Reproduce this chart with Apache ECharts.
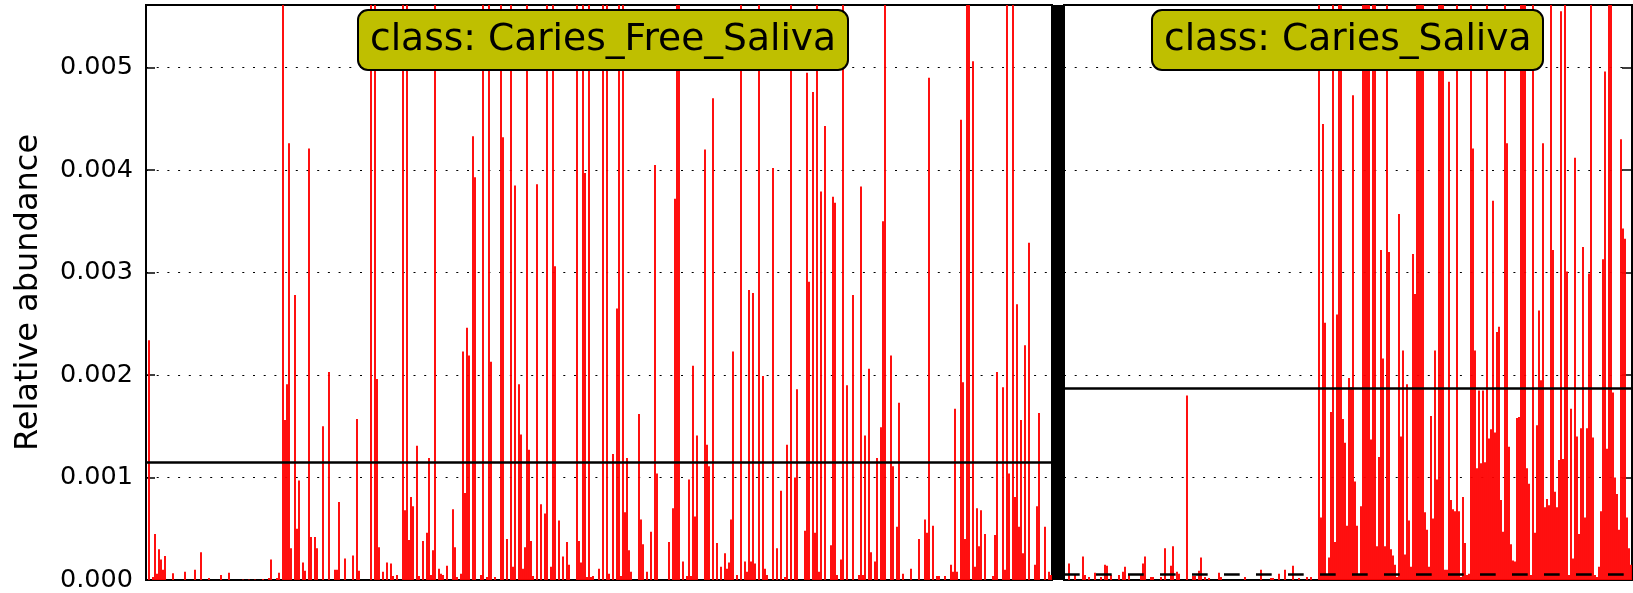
<!DOCTYPE html>
<html>
<head>
<meta charset="utf-8">
<script src="https://cdn.jsdelivr.net/npm/echarts@6/dist/echarts.min.js"></script>
<style>
  html, body { margin: 0; padding: 0; background: #ffffff; }
  #chart { width: 1633px; height: 593px; }
</style>
</head>
<body>
<div id="chart"></div>
<script>
// sample counts of the two classes
const leftCount = 453
const rightCount = 284

// [sample index, relative abundance x 1e-4]; bars taller than the axis are clipped at the top
const leftSamples = [
  [1, 23.4], [3, 0.3], [4, 4.5], [5, 0.6], [6, 3.0], [7, 2.0], [8, 1.0], [9, 2.35], [13, 0.65], [19, 0.8],
  [24, 1.0], [27, 2.7], [31, 0.2], [37, 0.5], [41, 0.7], [48, 0.05], [51, 0.05], [54, 0.05], [58, 0.1], [61, 0.2],
  [62, 2.0], [65, 0.2], [66, 0.7], [68, 60], [69, 15.6], [70, 19.1], [71, 42.6], [72, 3.1], [74, 27.8], [75, 5.0],
  [76, 9.7], [78, 1.7], [79, 0.9], [81, 42.1], [82, 4.2], [84, 4.2], [85, 3.1], [88, 15.0], [91, 20.3], [94, 1.0],
  [95, 1.0], [96, 7.6], [99, 2.1], [103, 2.4], [105, 15.7], [106, 0.9], [112, 60], [114, 60], [115, 19.6], [116, 3.2],
  [118, 0.8], [120, 1.7], [122, 1.6], [123, 0.4], [125, 0.5], [128, 60], [129, 6.8], [130, 60], [131, 3.9], [132, 8.1],
  [133, 7.2], [135, 13.1], [136, 0.4], [138, 3.8], [140, 4.6], [141, 11.9], [142, 0.5], [143, 2.9], [144, 60], [146, 1.1],
  [147, 0.6], [148, 0.5], [150, 1.4], [153, 6.9], [154, 3.2], [155, 0.3], [157, 0.6], [158, 22.3], [159, 8.5], [160, 24.6],
  [161, 21.9], [163, 43.3], [164, 39.3], [167, 0.5], [168, 60], [170, 0.3], [171, 60], [172, 21.3], [174, 0.3], [177, 60],
  [178, 43.2], [180, 4.0], [182, 60], [183, 1.3], [184, 38.5], [186, 19.1], [187, 14.2], [188, 1.1], [189, 3.2], [190, 60],
  [191, 12.7], [192, 3.8], [193, 0.4], [195, 38.6], [197, 7.4], [199, 6.5], [200, 60], [202, 1.3], [203, 60], [204, 30.6],
  [206, 5.8], [208, 2.3], [210, 3.7], [211, 1.5], [215, 60], [216, 3.8], [217, 1.7], [218, 60], [219, 39.7], [220, 0.3],
  [221, 60], [222, 0.3], [223, 0.4], [226, 1.1], [228, 60], [230, 60], [231, 0.6], [233, 12.3], [235, 26.5], [236, 60],
  [237, 0.4], [238, 60], [239, 6.6], [240, 11.9], [241, 2.9], [242, 0.8], [246, 16.2], [247, 5.9], [248, 3.5], [250, 0.8],
  [252, 4.7], [254, 40.5], [255, 10.4], [261, 3.7], [263, 7.0], [264, 37.2], [265, 60], [266, 60], [268, 1.8], [270, 0.4],
  [271, 9.8], [272, 0.4], [273, 20.9], [274, 6.2], [275, 14.1], [279, 42], [280, 13.2], [281, 11.1], [283, 47], [285, 3.6],
  [287, 1.3], [289, 2.6], [290, 1.1], [291, 1.7], [292, 5.9], [293, 22.3], [295, 0.5], [297, 60], [299, 1.8], [300, 0.8],
  [301, 28.3], [302, 1.8], [303, 28], [304, 1.6], [306, 60], [308, 19.9], [309, 1.1], [310, 0.5], [313, 40.2], [315, 3.1],
  [317, 8.7], [319, 0.3], [320, 13.2], [322, 60], [324, 10], [325, 18.6], [329, 4.8], [330, 49.5], [331, 29.1], [333, 47.6],
  [334, 4.6], [335, 60], [336, 0.8], [337, 37.9], [339, 44.3], [342, 3.4], [343, 37.4], [344, 36.8], [345, 0.5], [347, 2.0],
  [348, 60], [350, 19], [353, 27.8], [356, 0.5], [357, 38.4], [358, 0.5], [359, 14.1], [361, 20.6], [362, 2.7], [364, 1.8],
  [365, 11.9], [367, 14.9], [368, 35], [369, 60], [372, 21.9], [373, 11.1], [375, 5.2], [376, 17.3], [378, 0.6], [382, 1.1],
  [386, 4.0], [389, 5.9], [390, 4.6], [391, 49], [393, 5.3], [395, 0.4], [396, 0.4], [399, 0.4], [402, 1.5], [403, 0.8],
  [404, 16.7], [405, 0.8], [407, 44.9], [408, 19.3], [409, 4.0], [410, 60], [411, 60], [413, 50.6], [414, 1.3], [415, 7.0],
  [416, 3.3], [417, 6.8], [419, 4.5], [423, 0.4], [424, 4.4], [425, 20.3], [428, 18.8], [429, 1.0], [430, 60], [431, 10.4],
  [433, 60], [434, 8.1], [435, 26.9], [436, 5.2], [437, 15.6], [438, 2.6], [439, 22.9], [441, 32.9], [444, 1.5], [445, 7.2],
  [446, 16.3], [449, 5.2], [451, 0.8], [452, 0.5]
]

const rightSamples = [
  [2, 1.6], [5, 0.5], [9, 2.3], [10, 0.5], [12, 0.3], [15, 0.7], [18, 0.3], [20, 1.5], [21, 1.4], [23, 0.5],
  [27, 0.5], [29, 0.8], [30, 1.3], [32, 0.5], [38, 0.5], [39, 1.6], [40, 2.3], [43, 0.3], [44, 0.3], [48, 0.3],
  [50, 3.1], [53, 1.4], [54, 3.3], [56, 0.8], [57, 0.6], [61, 18], [64, 0.4], [65, 0.4], [67, 0.9], [68, 2.2],
  [70, 0.3], [72, 0.2], [77, 0.7], [78, 0.3], [90, 0.3], [98, 1.0], [103, 0.2], [104, 0.2], [107, 0.6], [110, 1.0],
  [114, 1.4], [117, 0.2], [121, 0.3], [123, 0.3],
  [127, 60], [128, 6.1], [129, 44.5], [130, 25.1], [131, 0.5], [132, 2.2], [133, 16.4], [134, 60], [135, 3.7], [136, 25.9],
  [137, 60], [138, 60], [139, 15.7], [140, 13.4], [141, 5.3], [142, 19.7], [143, 18.8], [144, 47.3], [145, 9.6], [146, 5.3],
  [147, 0.5], [148, 7.2], [149, 60], [150, 60], [151, 60], [152, 60], [153, 13.7], [154, 60], [155, 60], [156, 3.3],
  [157, 12.0], [158, 32.2], [159, 21.6], [160, 3.3], [161, 60], [162, 32.0], [163, 3.0], [164, 2.4], [165, 1.5], [166, 0.3],
  [167, 35.7], [168, 14.0], [169, 22.4], [170, 2.5], [171, 19.1], [172, 5.8], [173, 1.3], [174, 31.8], [175, 27.9], [176, 60],
  [177, 60], [178, 60], [179, 60], [180, 6.6], [181, 4.9], [182, 1.3], [183, 16], [184, 6], [185, 22.4], [186, 9.8],
  [187, 60], [188, 60], [189, 60], [190, 1.0], [191, 1.0], [192, 48.6], [193, 7.8], [194, 6.9], [195, 6.7], [196, 60],
  [197, 6.7], [198, 0.3], [199, 8.1], [200, 3.6], [201, 0.5], [202, 0.6], [203, 60], [204, 42.1], [205, 22.4], [206, 10.9],
  [207, 18.5], [208, 11.4], [209, 18.5], [210, 11.5], [211, 60], [212, 13.8], [213, 14.7], [214, 37], [215, 14.4], [216, 24.2],
  [217, 24.7], [218, 7.8], [219, 4.7], [220, 60], [221, 42.6], [222, 13], [223, 3.5], [224, 1.9], [225, 1.8], [226, 15.8],
  [227, 15.9], [228, 60], [229, 60], [230, 60], [231, 10.9], [232, 9.4], [233, 0.5], [234, 60], [235, 4.6], [236, 15.1],
  [237, 26.3], [238, 19.5], [239, 42.6], [240, 7.1], [241, 7.9], [242, 7.3], [243, 60], [244, 32.2], [245, 8.6], [246, 7.1],
  [247, 11.7], [248, 55.5], [249, 11.8], [250, 60], [251, 30.1], [252, 0.5], [253, 16.7], [254, 2.1], [255, 41.2], [256, 14],
  [257, 4.5], [258, 14.8], [259, 32.5], [260, 6.1], [261, 14.8], [262, 29.9], [263, 60], [264, 13.9], [265, 0.5], [266, 0.3],
  [267, 1.3], [268, 6.7], [269, 31.3], [270, 49.6], [271, 12.8], [272, 60], [273, 60], [274, 18.3], [275, 10], [276, 8.4],
  [277, 4.9], [278, 43], [279, 34.3], [280, 33.3], [281, 6.1], [282, 3.1], [283, 1.5]
]

// class mean (solid) and median (dashed)
const leftMean = 0.00115
const rightMean = 0.001866
const rightMedian = 0.000056

const classNames = ['class: Caries_Free_Saliva', 'class: Caries_Saliva']
const yMax = 0.00561
const yStep = 0.001

const toSeries = (count, pairs) => {
  const values = new Array(count).fill(0)
  pairs.forEach(([i, v]) => { values[i] = v / 10000 })
  return values
}
const indexLabels = (count) => Array.from({ length: count }, (_, i) => String(i))

const font = 'DejaVu Sans'
const dotted = { color: '#000', width: 1.2, type: [2, 8.7] }

const chart = echarts.init(document.getElementById('chart'))

const baseX = {
  type: 'category',
  axisLine: { show: true, lineStyle: { color: '#000', width: 2 } },
  axisTick: { show: false },
  axisLabel: { show: false },
  splitLine: { show: false }
}
const baseY = {
  type: 'value',
  min: 0,
  max: yMax,
  interval: yStep,
  splitLine: { show: true, lineStyle: dotted }
}
const boxStyle = {
  top: 10,
  padding: [8, 12],
  backgroundColor: '#bfbf00',
  borderColor: '#000',
  borderWidth: 2,
  borderRadius: 10,
  textStyle: { fontFamily: font, fontSize: 37.6, fontWeight: 'normal', color: '#000', lineHeight: 44 }
}
const meanMarker = {
  silent: true,
  symbol: 'none',
  precision: 8,
  label: { show: false }
}

chart.setOption({
  animation: false,
  backgroundColor: '#ffffff',
  title: [
    { ...boxStyle, text: classNames[0], left: 358 },
    { ...boxStyle, text: classNames[1], left: 1152 }
  ],
  grid: [
    { left: 146, top: 5, width: 906, height: 575, show: true, borderColor: '#000', borderWidth: 2 },
    { left: 1064, top: 5, width: 568, height: 575, show: true, borderColor: '#000', borderWidth: 2 }
  ],
  xAxis: [
    { ...baseX, gridIndex: 0, data: indexLabels(leftCount) },
    { ...baseX, gridIndex: 1, data: indexLabels(rightCount) }
  ],
  yAxis: [
    {
      ...baseY,
      gridIndex: 0,
      name: 'Relative abundance',
      nameLocation: 'middle',
      nameGap: 101,
      nameTextStyle: { fontFamily: font, fontSize: 32, color: '#000' },
      axisLine: { show: true, lineStyle: { color: '#000', width: 2 } },
      axisTick: { show: true, inside: true, length: 9, lineStyle: { color: '#000', width: 1.5 } },
      axisLabel: {
        fontFamily: font,
        fontSize: 25.5,
        color: '#000',
        margin: 13,
        showMaxLabel: false,
        formatter: (v) => v.toFixed(3)
      }
    },
    {
      ...baseY,
      gridIndex: 1,
      axisLine: { show: false },
      axisTick: { show: false },
      axisLabel: { show: false }
    },
    {
      ...baseY,
      gridIndex: 1,
      position: 'right',
      splitLine: { show: false },
      axisLine: { show: true, lineStyle: { color: '#000', width: 2 } },
      axisTick: { show: true, inside: true, length: 10, lineStyle: { color: '#000', width: 1.5 } },
      axisLabel: { show: false }
    }
  ],
  graphic: [
    // thick divider between the two classes
    { type: 'rect', shape: { x: 1052, y: 5, width: 12, height: 575 }, style: { fill: '#000' }, z: 100 }
  ],
  series: [
    {
      type: 'bar',
      xAxisIndex: 0,
      yAxisIndex: 0,
      data: toSeries(leftCount, leftSamples),
      barCategoryGap: '6%',
      itemStyle: { color: '#ff0000' },
      markLine: {
        ...meanMarker,
        lineStyle: { color: '#000', width: 2.6, type: 'solid' },
        data: [{ yAxis: leftMean }]
      }
    },
    {
      type: 'bar',
      xAxisIndex: 1,
      yAxisIndex: 1,
      data: toSeries(rightCount, rightSamples),
      barCategoryGap: '6%',
      itemStyle: { color: '#ff0000' },
      markLine: {
        ...meanMarker,
        data: [
          { yAxis: rightMean, lineStyle: { color: '#000', width: 2.6, type: 'solid' } },
          { yAxis: rightMedian, lineStyle: { color: '#000', width: 2.7, type: [15.7, 16.3] } }
        ]
      }
    }
  ]
})
</script>
</body>
</html>
